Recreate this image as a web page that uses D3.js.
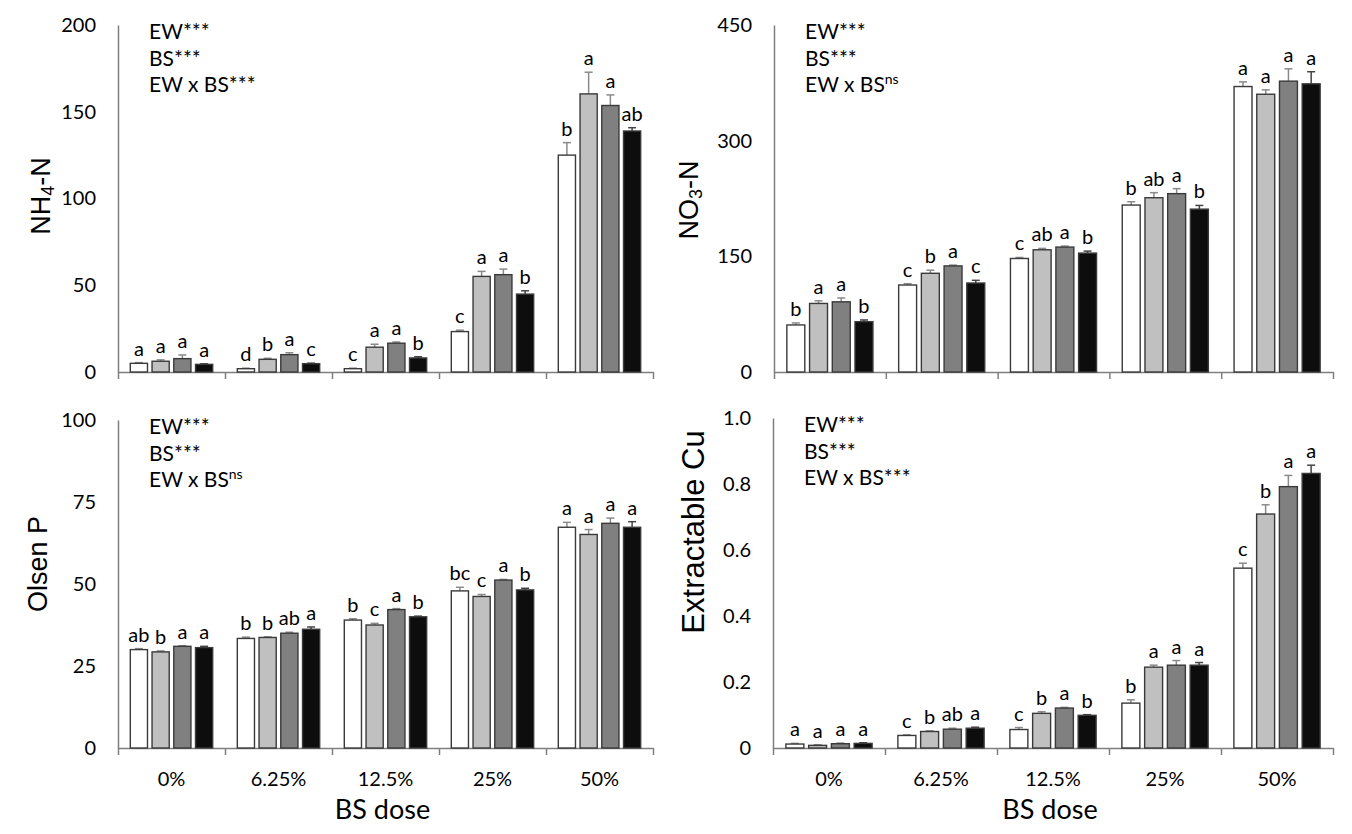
<!DOCTYPE html>
<html>
<head>
<meta charset="utf-8">
<script src="https://cdn.jsdelivr.net/npm/d3@7"></script>
<style>
  body { margin: 0; background: #fff; }
  svg { display: block; }
  .tick text { font-family: Lato, "Open Sans", sans-serif; fill: #000; }
</style>
</head>
<body>
<svg id="chart" width="1352" height="834"></svg>
<script>
// BS doses (x categories) and the four EW treatments (bars in each group)
var doses = ["0%", "6.25%", "12.5%", "25%", "50%"];
var treatments = ["t1", "t2", "t3", "t4"];
var barColors = ["#ffffff", "#c0c0c0", "#808080", "#0d0d0d"];

// NH4-N
var nh4Mean = [[5.0, 6.2, 7.7, 4.4], [1.9, 7.3, 10.0, 4.8], [1.9, 14.3, 16.6, 8.1], [23.3, 55.1, 56.1, 44.9], [125.0, 160.3, 153.6, 138.9]];
var nh4Err = [[0.4, 0.8, 2.1, 0.3], [0.3, 0.6, 1.1, 0.3], [0.3, 1.7, 0.7, 0.7], [0.8, 2.9, 3.2, 1.9], [7.2, 12.5, 6.1, 1.9]];
var nh4Letters = [["a", "a", "a", "a"], ["d", "b", "a", "c"], ["c", "a", "a", "b"], ["c", "a", "a", "b"], ["b", "a", "a", "ab"]];

// NO3-N
var no3Mean = [[61.0, 88.9, 91.0, 65.3], [112.8, 128.0, 137.6, 115.4], [147.2, 158.5, 162.0, 154.2], [216.5, 226.0, 231.3, 211.2], [370.2, 360.2, 377.2, 373.7]];
var no3Err = [[2.6, 3.4, 5.0, 2.2], [1.7, 4.0, 1.0, 3.5], [1.3, 1.8, 1.3, 2.6], [4.3, 6.6, 6.5, 4.8], [6.0, 5.7, 16.0, 15.7]];
var no3Letters = [["b", "a", "a", "b"], ["c", "b", "a", "c"], ["c", "ab", "a", "b"], ["b", "ab", "a", "b"], ["a", "a", "a", "a"]];

// Olsen P
var olsenMean = [[30.0, 29.3, 31.0, 30.6], [33.4, 33.7, 35.0, 36.2], [39.0, 37.5, 42.2, 40.0], [47.9, 46.2, 51.2, 48.2], [67.3, 65.1, 68.5, 67.3]];
var olsenErr = [[0.3, 0.3, 0.2, 0.4], [0.4, 0.2, 0.3, 0.7], [0.4, 0.5, 0.3, 0.2], [1.1, 0.6, 0.2, 0.5], [1.5, 1.5, 1.6, 1.7]];
var olsenLetters = [["ab", "b", "a", "a"], ["b", "b", "ab", "a"], ["b", "c", "a", "b"], ["bc", "c", "a", "b"], ["a", "a", "a", "a"]];

// Extractable Cu
var cuMean = [[0.012, 0.008, 0.013, 0.014], [0.038, 0.050, 0.057, 0.060], [0.056, 0.105, 0.121, 0.099], [0.136, 0.245, 0.251, 0.251], [0.545, 0.709, 0.792, 0.832]];
var cuErr = [[0.002, 0.002, 0.002, 0.002], [0.002, 0.002, 0.003, 0.003], [0.006, 0.005, 0.002, 0.002], [0.010, 0.006, 0.014, 0.008], [0.015, 0.028, 0.034, 0.025]];
var cuLetters = [["a", "a", "a", "a"], ["c", "b", "ab", "a"], ["c", "b", "a", "b"], ["b", "a", "a", "a"], ["c", "b", "a", "a"]];

// y ticks and ANOVA annotation for each panel
var nh4Ticks = [0, 50, 100, 150, 200];
var no3Ticks = [0, 150, 300, 450];
var olsenTicks = [0, 25, 50, 75, 100];
var cuTicks = [0, 0.2, 0.4, 0.6, 0.8, 1.0];
var sigLabels = ["EW", "BS", "EW x BS"];

var panels = [
  { mean: nh4Mean, err: nh4Err, letters: nh4Letters, ticks: nh4Ticks, fmt: d3.format("d"),
    sig: ["***", "***", "***"], title: ["NH", "4", "-N"], titleSize: 27,
    left: 118, right: 653, top: 25, bottom: 372, titleX: 41, titleY: 196, showCats: false },
  { mean: no3Mean, err: no3Err, letters: no3Letters, ticks: no3Ticks, fmt: d3.format("d"),
    sig: ["***", "***", "ns"], title: ["NO", "3", "-N"], titleSize: 27,
    left: 774, right: 1333, top: 25, bottom: 372, titleX: 689, titleY: 200, showCats: false },
  { mean: olsenMean, err: olsenErr, letters: olsenLetters, ticks: olsenTicks, fmt: d3.format("d"),
    sig: ["***", "***", "ns"], title: ["Olsen P"], titleSize: 27,
    left: 118, right: 653, top: 420, bottom: 748, titleX: 38, titleY: 564, showCats: true },
  { mean: cuMean, err: cuErr, letters: cuLetters, ticks: cuTicks, fmt: function(d) { return d === 0 ? "0" : d3.format(".1f")(d); },
    sig: ["***", "***", "***"], title: ["Extractable Cu"], titleSize: 31,
    left: 773, right: 1333, top: 418, bottom: 748, titleX: 693, titleY: 532, showCats: true }
];

var svg = d3.select("#chart");
var axisColor = "#7f7f7f";

panels.forEach(function(p) {
  var g = svg.append("g");

  var x0 = d3.scaleBand()
    .domain(doses)
    .range([p.left, p.right])
    .padding(0);

  var bw = x0.bandwidth();
  var x1 = d3.scaleBand()
    .domain(treatments)
    .range([bw * 0.115, bw * 0.885])
    .paddingInner(0.21);

  var y = d3.scaleLinear()
    .domain([0, d3.max(p.ticks)])
    .range([p.bottom, p.top]);

  // y axis: line + labels, no tick marks
  var yAxis = g.append("g")
    .attr("transform", `translate(${p.left},0)`)
    .call(d3.axisLeft(y).tickValues(p.ticks).tickFormat(p.fmt).tickSize(0).tickSizeOuter(0).tickPadding(22));
  yAxis.select(".domain").attr("stroke", axisColor).attr("stroke-width", 1.5);
  yAxis.selectAll("text").attr("font-size", 20);

  // x axis: ticks at group boundaries
  var xb = d3.scaleLinear().domain([0, doses.length]).range([p.left, p.right]);
  var xAxis = g.append("g")
    .attr("transform", `translate(0,${p.bottom})`)
    .call(d3.axisBottom(xb).tickValues(d3.range(doses.length + 1)).tickFormat("").tickSize(7).tickSizeOuter(0));
  xAxis.selectAll("line, .domain").attr("stroke", axisColor).attr("stroke-width", 1.5);

  if (p.showCats) {
    var cats = g.append("g")
      .attr("transform", `translate(0,${p.bottom})`)
      .call(d3.axisBottom(x0).tickSize(0).tickPadding(24));
    cats.select(".domain").remove();
    cats.selectAll("text").attr("font-size", 20);

    g.append("text")
      .attr("x", (p.left + p.right) / 2 - 3)
      .attr("y", 819)
      .attr("text-anchor", "middle")
      .attr("font-family", "Lato, sans-serif")
      .attr("font-size", 27)
      .attr("fill", "#000")
      .text("BS dose");
  }

  // bars
  var rows = [];
  doses.forEach(function(d, i) {
    treatments.forEach(function(t, j) {
      rows.push({ dose: d, t: t, j: j, v: p.mean[i][j], e: p.err[i][j], l: p.letters[i][j] });
    });
  });

  var bars = g.append("g").selectAll("g")
    .data(rows)
    .enter()
    .append("g")
    .attr("transform", d => `translate(${x0(d.dose) + x1(d.t)},0)`);

  var barW = x1.bandwidth();

  bars.append("line")
    .attr("x1", barW / 2)
    .attr("x2", barW / 2)
    .attr("y1", d => y(d.v))
    .attr("y2", d => y(d.v + d.e))
    .attr("stroke", d => d.j === 3 ? "#444" : "#8a8a8a")
    .attr("stroke-width", 1.5);

  bars.append("line")
    .attr("x1", barW / 2 - 4)
    .attr("x2", barW / 2 + 4)
    .attr("y1", d => y(d.v + d.e))
    .attr("y2", d => y(d.v + d.e))
    .attr("stroke", d => d.j === 3 ? "#444" : "#8a8a8a")
    .attr("stroke-width", 1.5);

  bars.append("rect")
    .attr("x", 0)
    .attr("y", d => y(d.v))
    .attr("width", barW)
    .attr("height", d => p.bottom - y(d.v))
    .attr("fill", d => barColors[d.j])
    .attr("stroke", "#3a3a3a")
    .attr("stroke-width", 1.4);

  bars.append("text")
    .attr("x", barW / 2)
    .attr("y", d => y(d.v + d.e) - 7)
    .attr("text-anchor", "middle")
    .attr("font-family", "Lato, sans-serif")
    .attr("font-size", 20)
    .attr("fill", "#000")
    .text(d => d.l);

  // ANOVA annotation
  sigLabels.forEach(function(s, k) {
    var t = g.append("text")
      .attr("x", p.left + 31)
      .attr("y", p.top + 14 + k * 26.5)
      .attr("font-family", "Lato, sans-serif")
      .attr("font-size", 21)
      .attr("fill", "#000");
    t.append("tspan").text(s);
    if (p.sig[k] === "ns") {
      t.append("tspan").attr("font-size", 14).attr("dy", -8).text("ns");
    } else {
      t.append("tspan").text(p.sig[k]);
    }
  });

  // y title
  var title = g.append("text")
    .attr("transform", `translate(${p.titleX},${p.titleY}) rotate(-90)`)
    .attr("text-anchor", "middle")
    .attr("dominant-baseline", "central")
    .attr("font-family", "'Liberation Sans', Arial, sans-serif")
    .attr("font-size", p.titleSize)
    .attr("fill", "#000");
  title.append("tspan").text(p.title[0]);
  if (p.title.length > 1) {
    title.append("tspan").attr("font-size", 18).attr("dy", 7).text(p.title[1]);
    title.append("tspan").attr("dy", -7).text(p.title[2]);
  }
});
</script>
</body>
</html>
